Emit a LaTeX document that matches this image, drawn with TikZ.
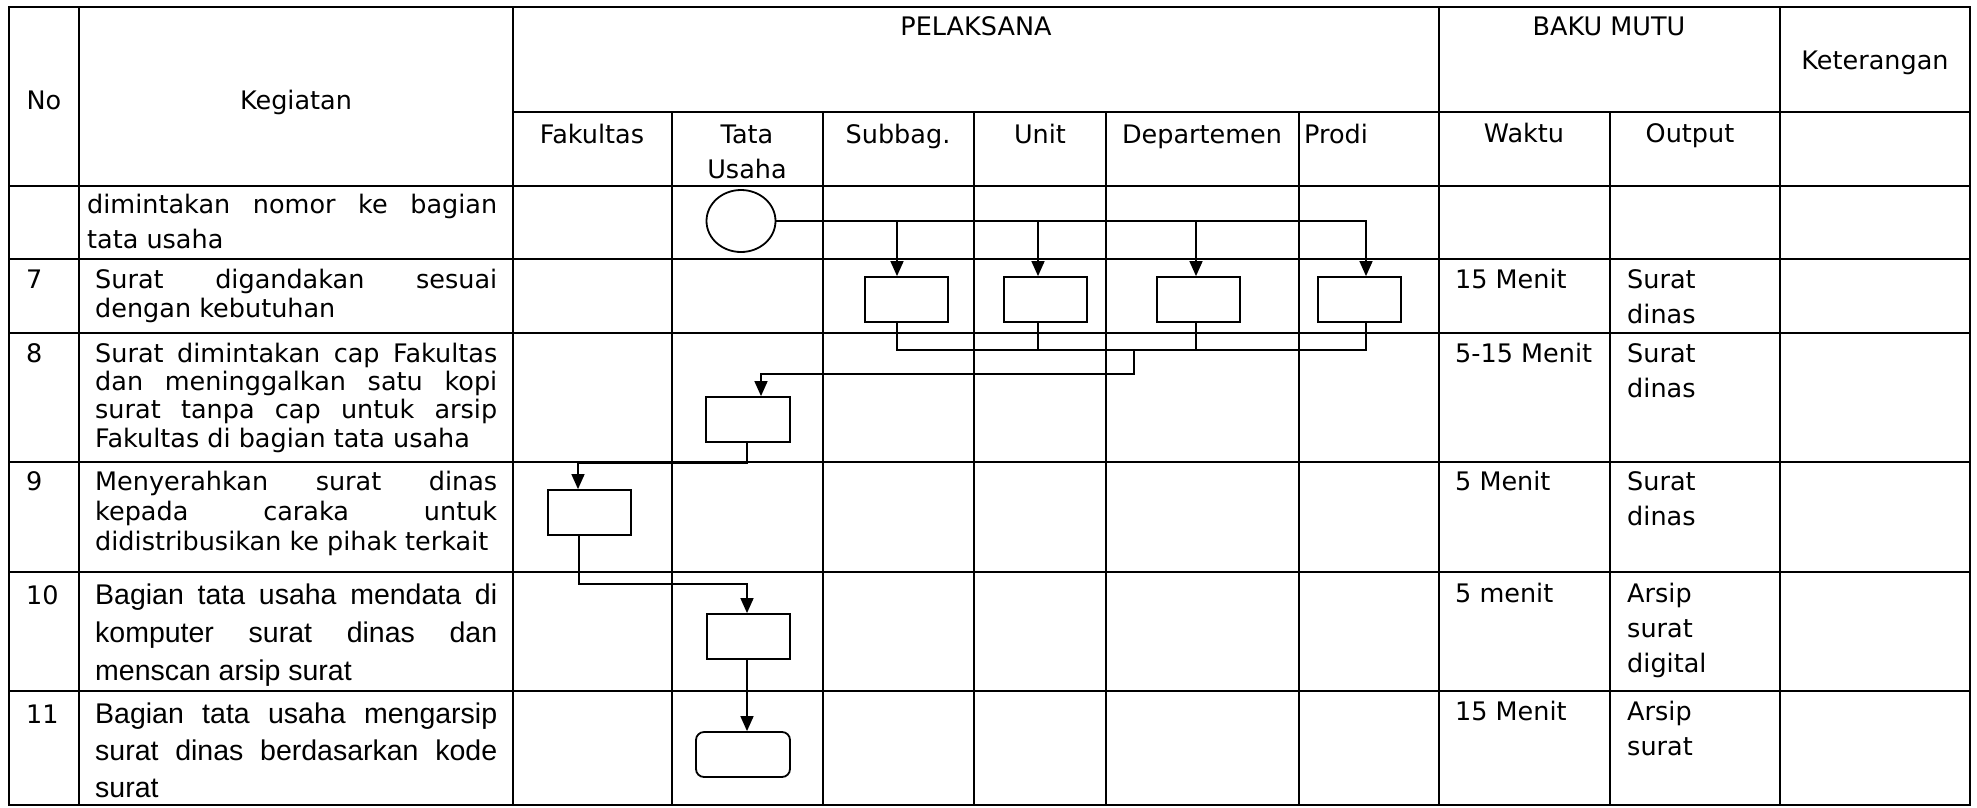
\documentclass[tikz,border=0pt]{standalone}
\usepackage{fontspec}
\setmainfont{DejaVu Sans}
\newfontfamily\arialf{Liberation Sans}
\usetikzlibrary{arrows.meta,shapes.geometric,calc}
\newcommand{\jln}[2]{\makebox[#1][s]{#2}}
\begin{document}
\begin{tikzpicture}[x=1pt,y=-1pt,
  grid/.style={line width=2.4pt,line cap=rect},
  conn/.style={line width=1.5pt},
  arr/.style={conn,-{Triangle[length=15pt,width=13pt]}},
  procbox/.style={draw,line width=1.8pt,minimum width=83pt,minimum height=45pt,inner sep=0pt},
  hdr/.style={font=\fontsize{25.5}{35}\selectfont,inner sep=0pt},
  para/.style={anchor=north west,inner sep=0pt,align=left}]
\useasboundingbox (0,0) rectangle (1977,807);
% table grid
\draw[grid] (9,7) rectangle (1970,805);
\foreach \x in {79,513,1439,1780} \draw[grid] (\x,7) -- (\x,805);
\foreach \x in {672,823,974,1106,1299,1610} \draw[grid] (\x,112) -- (\x,805);
\draw[grid] (513,112) -- (1970,112);
\foreach \y in {186,259,333,462,572,691} \draw[grid] (9,\y) -- (1970,\y);
% header
\node[hdr,anchor=base] (hno) at (44,109) {No};
\node[hdr,anchor=base] (hkeg) at (296,109) {Kegiatan};
\node[hdr,anchor=base] (hpel) at (976,35) {PELAKSANA};
\node[hdr,anchor=base] (hbaku) at (1609,35) {BAKU MUTU};
\node[hdr,anchor=base] (hket) at (1875,69) {Keterangan};
\node[hdr,anchor=base] (hfak) at (592,143) {Fakultas};
\node[hdr,anchor=north,align=center] (htu) at (747,118.5) {\strut Tata\\Usaha};
\node[hdr,anchor=base] (hsub) at (898,143) {Subbag.};
\node[hdr,anchor=base] (hunit) at (1040,143) {Unit};
\node[hdr,anchor=base] (hdep) at (1202,143) {Departemen};
\node[hdr,anchor=base west] (hprodi) at (1304,143) {Prodi};
\node[hdr,anchor=base] (hwaktu) at (1524,142) {Waktu};
\node[hdr,anchor=base] (hout) at (1690,142) {Output};
% numbers
\node[hdr,anchor=base west] (n7) at (26,288) {7};
\node[hdr,anchor=base west] (n8) at (26,362) {8};
\node[hdr,anchor=base west] (n9) at (26,490) {9};
\node[hdr,anchor=base west] (n10) at (26,604) {10};
\node[hdr,anchor=base west] (n11) at (26,723) {11};
% kegiatan
\node[para,font=\fontsize{25.5}{35}\selectfont] (k6) at (87,188.5)
  {\strut\jln{410pt}{dimintakan nomor ke bagian}\\tata usaha};
\node[para,font=\fontsize{25.5}{29}\selectfont] (k7) at (95,267.7)
  {\strut\jln{402pt}{Surat digandakan sesuai}\\dengan kebutuhan};
\node[para,font=\fontsize{25.5}{28.3}\selectfont] (k8) at (95,342.2)
  {\strut\jln{402pt}{Surat dimintakan cap Fakultas}\\\jln{402pt}{dan meninggalkan satu kopi}\\\jln{402pt}{surat tanpa cap untuk arsip}\\Fakultas di bagian tata usaha};
\node[para,font=\fontsize{25.5}{30}\selectfont] (k9) at (95,469)
  {\strut\jln{402pt}{Menyerahkan surat dinas}\\\jln{402pt}{kepada caraka untuk}\\didistribusikan ke pihak terkait};
\node[para,font=\arialf\fontsize{28.5}{38}\selectfont] (k10) at (95,577.4)
  {\strut\jln{402pt}{Bagian tata usaha mendata di}\\\jln{402pt}{komputer surat dinas dan}\\menscan arsip surat};
\node[para,font=\arialf\fontsize{28.5}{37}\selectfont] (k11) at (95,697.1)
  {\strut\jln{402pt}{Bagian tata usaha mengarsip}\\\jln{402pt}{surat dinas berdasarkan kode}\\surat};
% waktu / output
\node[hdr,anchor=base west] (w7) at (1455,288) {15 Menit};
\node[hdr,anchor=base west] (w8) at (1455,362) {5-15 Menit};
\node[hdr,anchor=base west] (w9) at (1455,490) {5 Menit};
\node[hdr,anchor=base west] (w10) at (1455,602) {5 menit};
\node[hdr,anchor=base west] (w11) at (1455,720) {15 Menit};
\node[hdr,para] (o7) at (1627,263.5) {\strut Surat\\dinas};
\node[hdr,para] (o8) at (1627,337.5) {\strut Surat\\dinas};
\node[hdr,para] (o9) at (1627,465.5) {\strut Surat\\dinas};
\node[hdr,para] (o10) at (1627,577.5) {\strut Arsip\\surat\\digital};
\node[hdr,para] (o11) at (1627,695.5) {\strut Arsip\\surat};
% flow shapes
\node[ellipse,draw,line width=1.8pt,minimum width=69pt,minimum height=62pt,inner sep=0pt] (c6) at (741,221) {};
\node[procbox] (s7) at (906.5,299.5) {};
\node[procbox] (u7) at (1045.5,299.5) {};
\node[procbox] (d7) at (1198.5,299.5) {};
\node[procbox] (p7) at (1359.5,299.5) {};
\node[procbox,minimum width=84pt] (t8) at (748,419.5) {};
\node[procbox] (f9) at (589.5,512.5) {};
\node[procbox] (t10) at (748.5,636.5) {};
\node[procbox,rounded corners=8pt,minimum width=94pt] (t11) at (743,754.5) {};
% stem coordinates
\coordinate (a1) at (897,0);
\coordinate (a2) at (1038,0);
\coordinate (a3) at (1196,0);
\coordinate (a4) at (1366,0);
\coordinate (j1) at (1134,350);
\coordinate (j2) at (1134,374);
% connectors
\draw[arr] (c6.east) -| (a4 |- p7.north);
\draw[arr] (a1 |- c6.east) -- (a1 |- s7.north);
\draw[arr] (a2 |- c6.east) -- (a2 |- u7.north);
\draw[arr] (a3 |- c6.east) -- (a3 |- d7.north);
\draw[conn] (a1 |- s7.south) -- (a1 |- j1) -- (a4 |- j1) -- (a4 |- p7.south);
\draw[conn] (a2 |- u7.south) -- (a2 |- j1);
\draw[conn] (a3 |- d7.south) -- (a3 |- j1);
\draw[arr] (j1) -- (j2) -| ($(t8.north)+(13,0)$);
\draw[arr] ($(t8.south)+(-1,0)$) -- ++(0,20) -| ($(f9.north)+(-11.5,0)$);
\draw[arr] ($(f9.south)+(-10.5,0)$) -- ++(0,48) -| ($(t10.north)+(-1.5,0)$);
\draw[arr] ($(t10.south)+(-1.5,0)$) -- ($(t11.north)+(4,0)$);
\end{tikzpicture}
\end{document}
